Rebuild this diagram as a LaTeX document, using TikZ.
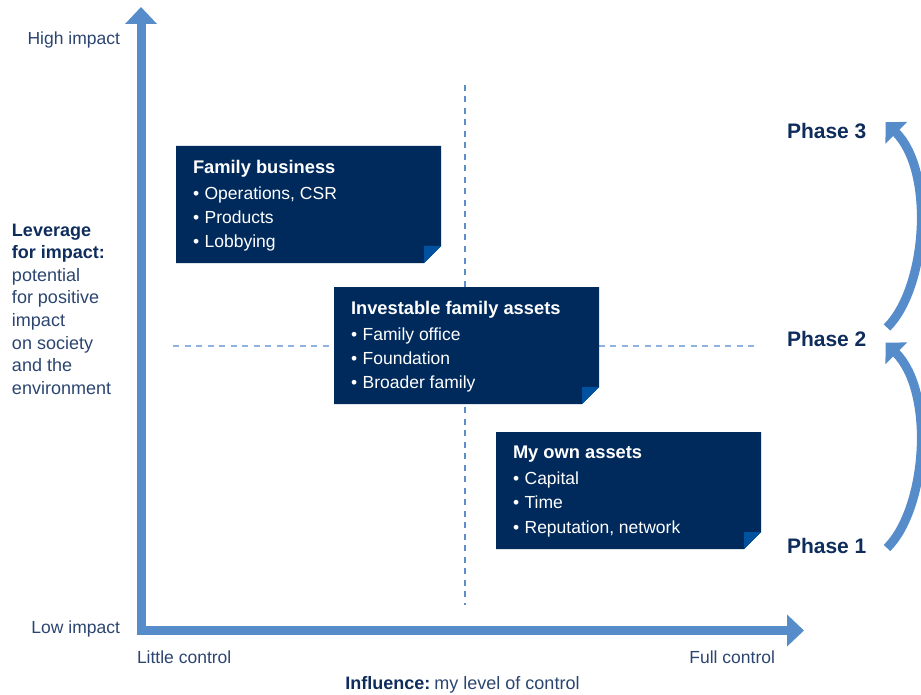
\documentclass[tikz,border=0pt]{standalone}
\usepackage{fontspec}
\setmainfont{Liberation Sans}
\usetikzlibrary{arrows.meta}
\definecolor{navy}{HTML}{002A5C}
\definecolor{foldblue}{HTML}{0052A0}
\definecolor{axisblue}{HTML}{568CCA}
\definecolor{vdash}{HTML}{5F8DC8}
\definecolor{hdash}{HTML}{8FB2DE}
\definecolor{labeltext}{HTML}{2B4570}
\definecolor{darknavy}{HTML}{0F2D5C}
\begin{document}
\begin{tikzpicture}[x=1pt,y=-1pt,
  lbl/.style={inner sep=0pt, outer sep=0pt, text=labeltext, font=\fontsize{17.5}{21}\selectfont},
  phaselbl/.style={inner sep=0pt, outer sep=0pt, text=darknavy, font=\fontsize{21}{25}\selectfont\bfseries, anchor=base west},
  axisline/.style={line width=9pt, draw=axisblue, line join=miter,
    arrows={Triangle[length=17pt,width=31pt]-Triangle[length=17pt,width=31pt]}},
  phasearrow/.style={line width=9pt, draw=axisblue, arrows={-Triangle[length=15pt,width=30pt]}},
  dashline/.style={line width=1.3pt, dash pattern=on 6pt off 5.5pt},
  boxframe/.style={anchor=north west, minimum width=265pt, minimum height=117pt, inner sep=0pt, outer sep=0pt},
  boxtext/.style={anchor=north west, inner sep=0pt, outer sep=0pt, align=left, text=white,
    font=\fontsize{17.5}{24.3}\selectfont}
]
\useasboundingbox (0,0) rectangle (921,695);

% dashed quadrant lines
\coordinate (vtop) at (465,85);
\coordinate (vbot) at (465,605);
\coordinate (hleft) at (173,346);
\coordinate (hright) at (757,346);
\draw[dashline, draw=hdash] (hleft) -- (hright);
\draw[dashline, draw=vdash] (vtop) -- (vbot);

% axes
\coordinate (ytip) at (141,7);
\coordinate (origin) at (141,630.5);
\coordinate (xtip) at (804,630.5);
\draw[axisline] (ytip) -- (origin) -- (xtip);

% axis labels
\node[lbl, anchor=base east] (high) at (120,45) {High impact};
\node[lbl, anchor=base east] (low) at (120,633) {Low impact};
\node[lbl, anchor=base west] (little) at (137,663) {Little control};
\node[lbl, anchor=base east] (full) at (775,663) {Full control};
\node[lbl, anchor=base, font=\fontsize{18}{22}\selectfont] (influence) at (462.5,689)
  {{\color{darknavy}\bfseries Influence:}\kern-1pt\ my level of control};
\node[lbl, anchor=north west, align=left, font=\fontsize{18}{22.6}\selectfont] (leverage) at (12,223.8)
  {\textbf{\color{darknavy}Leverage}\\\textbf{\color{darknavy}for impact:}\\potential\\for positive\\impact\\on society\\and the\\environment};

% boxes
\node[boxframe] (fb) at (176,146) {};
\node[boxframe] (ifa) at (334,287) {};
\node[boxframe] (own) at (496,432) {};
\foreach \b in {fb,ifa,own}{
  \fill[navy] (\b.north west) -- (\b.north east) -- ([yshift=17pt]\b.south east)
     -- ([xshift=-17pt]\b.south east) -- (\b.south west) -- cycle;
  \fill[foldblue] ([xshift=-17pt,yshift=17pt]\b.south east) -- ([yshift=17pt]\b.south east)
     -- ([xshift=-17pt]\b.south east) -- cycle;
}
\node[boxtext] (fbt) at ([xshift=17pt,yshift=-14pt]fb.north west)
  {{\fontsize{18.3}{24.3}\selectfont\bfseries Family business}\\[1.7pt]•\hspace{5.5pt}Operations, CSR\\•\hspace{5.5pt}Products\\•\hspace{5.5pt}Lobbying};
\node[boxtext] (ifat) at ([xshift=17pt,yshift=-14pt]ifa.north west)
  {{\fontsize{18.3}{24.3}\selectfont\bfseries Investable family assets}\\[1.7pt]•\hspace{5.5pt}Family office\\•\hspace{5.5pt}Foundation\\•\hspace{5.5pt}Broader family};
\node[boxtext] (ownt) at ([xshift=17pt,yshift=-14pt]own.north west)
  {{\fontsize{18.3}{24.3}\selectfont\bfseries My own assets}\\[1.7pt]•\hspace{5.5pt}Capital\\•\hspace{5.5pt}Time\\•\hspace{5.5pt}Reputation, network};

% phases
\node[phaselbl] (ph3) at (787,139) {Phase 3};
\node[phaselbl] (ph2) at (787,346) {Phase 2};
\node[phaselbl] (ph1) at (787,553) {Phase 1};

\coordinate (a1s) at (887,548);
\coordinate (a1c1) at (927,508);
\coordinate (a1c2) at (935,392);
\coordinate (a1t) at (885.7,342.7);
\draw[phasearrow] (a1s) .. controls (a1c1) and (a1c2) .. (a1t);

\coordinate (a2s) at (887,327.5);
\coordinate (a2c1) at (927,287.5);
\coordinate (a2c2) at (935,171.5);
\coordinate (a2t) at (885.7,122.2);
\draw[phasearrow] (a2s) .. controls (a2c1) and (a2c2) .. (a2t);
\end{tikzpicture}
\end{document}
